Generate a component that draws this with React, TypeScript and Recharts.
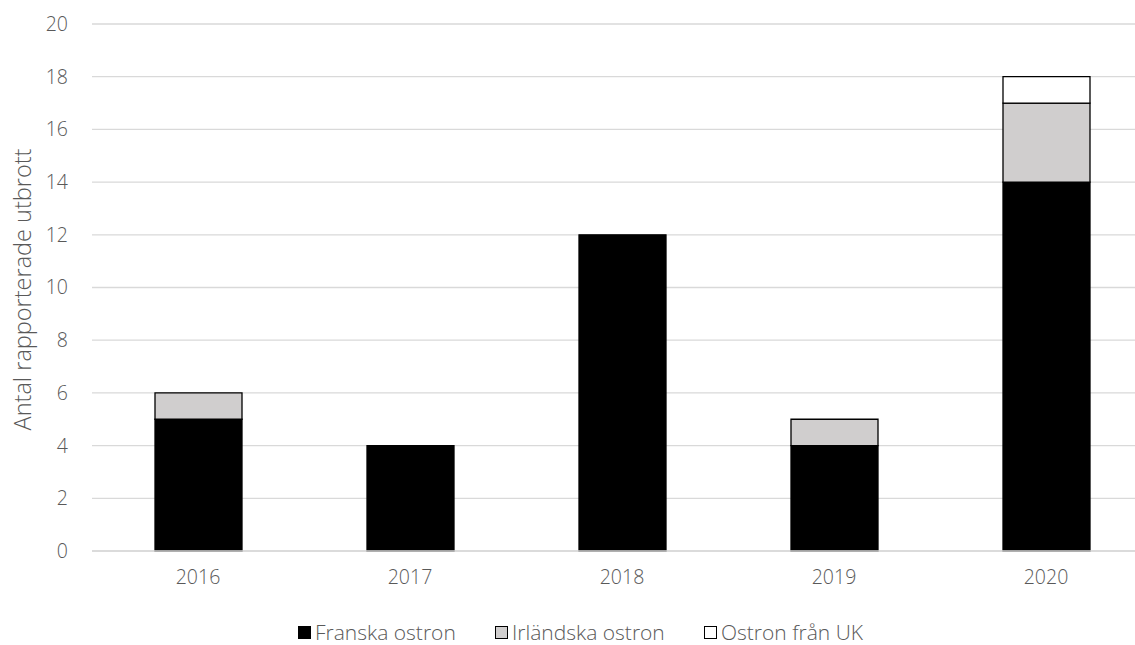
import React from 'react';
import {
  BarChart,
  Bar,
  XAxis,
  YAxis,
  CartesianGrid,
  Legend,
} from 'recharts';

const years = ['2016', '2017', '2018', '2019', '2020'];
const franska = [5, 4, 12, 4, 14];
const irlandska = [1, 0, 0, 1, 3];
const ostronUK = [0, 0, 0, 0, 1];
const yTicks = [0, 2, 4, 6, 8, 10, 12, 14, 16, 18, 20];

const series = [
  { key: 'franska', name: 'Franska ostron', fill: '#000000' },
  { key: 'irlandska', name: 'Irländska ostron', fill: '#d0cece' },
  { key: 'uk', name: 'Ostron från UK', fill: '#ffffff' },
];

const data = years.map((year, i) => ({
  year,
  franska: franska[i],
  irlandska: irlandska[i],
  uk: ostronUK[i],
}));

const FONT = "'Segoe UI', 'Open Sans', 'Noto Sans', sans-serif";
const TEXT = '#595959';
// legend item slots so the keys land where the original puts them
const legendSlots = [197, 209, 200];

const YLabel = (props: any) => {
  const { x, y, height } = props.viewBox;
  const cx = x + 22;
  const cy = y + height / 2 + 2;
  return (
    <text
      x={cx}
      y={cy}
      transform={`rotate(-90, ${cx}, ${cy})`}
      textAnchor="middle"
      dominantBaseline="central"
      fill={TEXT}
      fontSize={23.5}
      fontFamily={FONT}
      fontWeight={300}
    >
      Antal rapporterade utbrott
    </text>
  );
};

const renderLegend = () => (
  <div
    style={{
      display: 'flex',
      alignItems: 'center',
      paddingLeft: 298,
      paddingTop: 14,
      height: 22,
      lineHeight: '22px',
      fontFamily: FONT,
      fontWeight: 300,
      fontSize: 21,
      color: TEXT,
    }}
  >
    {series.map((s, i) => (
      <div key={s.key} style={{ display: 'flex', alignItems: 'center', width: legendSlots[i] }}>
        <span
          style={{
            display: 'inline-block',
            width: 11,
            height: 11,
            background: s.fill,
            border: '1.5px solid #000',
            marginRight: 4,
          }}
        />
        <span>{s.name}</span>
      </div>
    ))}
  </div>
);

const App: React.FC = () => {
  return (
    <div
      style={{
        position: 'fixed',
        left: 0,
        top: 0,
        width: 1135,
        height: 645,
        overflow: 'hidden',
        background: '#fff',
      }}
    >
      <BarChart
        width={1152}
        height={645}
        data={data}
        margin={{ top: 24, right: 0, left: 0, bottom: 2 }}
        barSize={87}
      >
        <CartesianGrid vertical={false} stroke="#d9d9d9" strokeWidth={1.3} />
        <XAxis
          dataKey="year"
          height={56}
          tickSize={0}
          tickMargin={19}
          axisLine={{ stroke: '#d9d9d9', strokeWidth: 1.3 }}
          tick={{ fontSize: 19.5, fill: TEXT, fontFamily: FONT, fontWeight: 300 }}
        />
        <YAxis
          width={92}
          domain={[0, 20]}
          ticks={yTicks}
          interval={0}
          tickSize={0}
          tickMargin={24}
          axisLine={false}
          tickLine={false}
          tick={{ fontSize: 19.5, fill: TEXT, fontFamily: FONT, fontWeight: 300 }}
          label={<YLabel />}
        />
        <Legend verticalAlign="bottom" content={renderLegend} wrapperStyle={{ left: 0, width: 1135 }} />
        {series.map((s) => (
          <Bar
            key={s.key}
            dataKey={s.key}
            name={s.name}
            stackId="a"
            fill={s.fill}
            stroke="#000"
            strokeWidth={1.3}
            isAnimationActive={false}
          />
        ))}
      </BarChart>
    </div>
  );
};

export default App;
